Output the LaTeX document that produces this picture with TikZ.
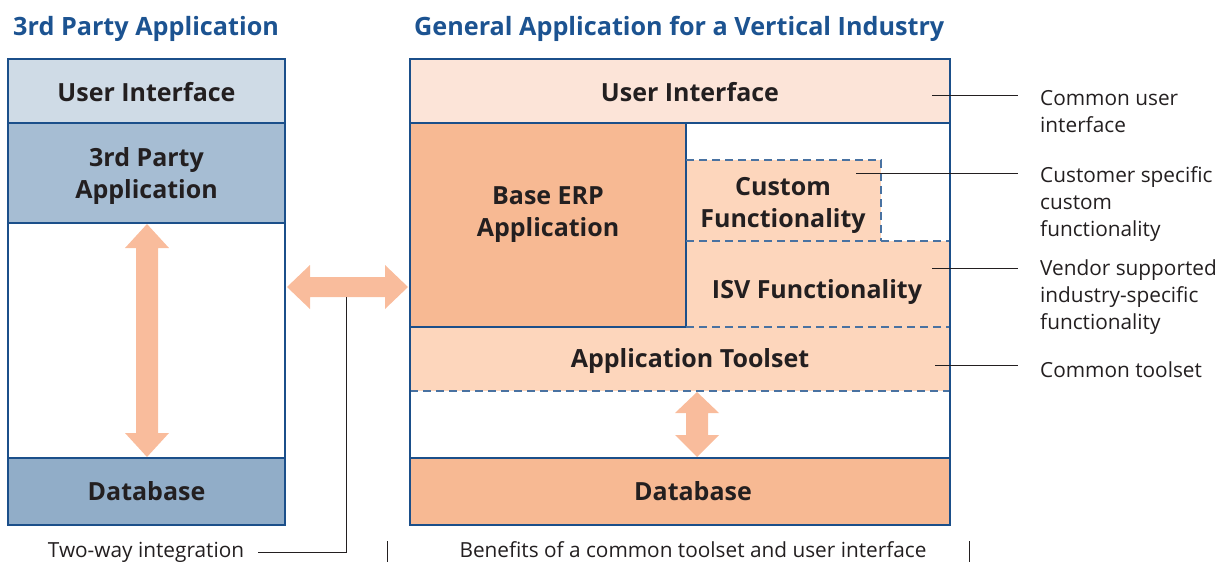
\documentclass[tikz,border=0pt]{standalone}
\usepackage{fontspec}
\setmainfont{Open Sans}
\definecolor{navy}{HTML}{1B4F8A}
\definecolor{ttl}{HTML}{1C5391}
\definecolor{txt}{HTML}{231F20}
\definecolor{bUI}{HTML}{CFDBE6}
\definecolor{bApp}{HTML}{A6BDD3}
\definecolor{bDB}{HTML}{91ADC8}
\definecolor{oUI}{HTML}{FCE4D8}
\definecolor{oDark}{HTML}{F7B993}
\definecolor{oLight}{HTML}{FDD6BC}
\definecolor{arr}{HTML}{F9BC9C}
\begin{document}
\begin{tikzpicture}[x=1pt,y=-1pt,
  lbl/.style={font=\bfseries\fontsize{25}{32}\selectfont, text=txt, align=center, inner sep=0},
  ttlfont/.style={font=\bfseries\fontsize{25.2}{30}\selectfont, text=ttl, anchor=base west, inner sep=0},
  ann/.style={font=\fontsize{20.8}{26.8}\selectfont, text=txt, align=left, anchor=base west, inner sep=0},
  outer/.style={draw=navy, line width=2.6pt},
  thin/.style={draw=navy, line width=1.3pt},
  dashline/.style={draw=navy!80, line width=1.3pt, dash pattern=on 8pt off 5pt},
  leader/.style={draw=txt, line width=1pt},
  bigarrow/.style={fill=arr, draw=none}]
\useasboundingbox (0,0) rectangle (1223,562);

% titles
\node[ttlfont] (t1) at (13,35) {3rd Party Application};
\node[ttlfont] (t2) at (414,35) {General Application for a Vertical Industry};

% ---------- left stack ----------
\fill[bUI] (8,59) rectangle (285,123);
\fill[bApp] (8,123) rectangle (285,223);
\fill[bDB] (8,458) rectangle (285,525);
\draw[thin] (8,123) -- (285,123);
\draw[thin] (8,223) -- (285,223);
\draw[thin] (8,458) -- (285,458);
\draw[outer] (8,59) rectangle (285,525);
\node[lbl] (lui) at (146.5,92) {User Interface};
\node[lbl] (lapp) at (146.5,176) {3rd Party\\Application};
\node[lbl] (ldb) at (146.5,491) {Database};
% vertical arrow
\fill[bigarrow] (147,224) -- (169,248) -- (158,248) -- (158,433) -- (169,433) -- (147,457)
  -- (125,433) -- (136,433) -- (136,248) -- (125,248) -- cycle;

% ---------- right stack ----------
\fill[oUI] (410,59) rectangle (950,123);
\fill[oDark] (410,123) rectangle (686,327);
\fill[oLight] (686,160) rectangle (881,241);
\fill[oLight] (686,241) rectangle (950,327);
\fill[oLight] (410,327) rectangle (950,391);
\fill[oDark] (410,458) rectangle (950,525);
\draw[thin] (410,123) -- (950,123);
\draw[thin] (686,123) -- (686,327);
\draw[thin] (410,327) -- (686,327);
\draw[thin] (410,458) -- (950,458);
\draw[dashline] (686,160) -- (881,160) -- (881,241);
\draw[dashline] (686,241) -- (950,241);
\draw[dashline] (686,327) -- (950,327);
\draw[dashline] (410,391) -- (950,391);
\draw[outer] (410,59) rectangle (950,525);
\node[lbl] (rui) at (690,92) {User Interface};
\node[lbl] (erp) at (548,215) {Base ERP\\Application};
\node[lbl] (cust) at (783,205) {Custom\\Functionality};
\node[lbl] (isv) at (817,292) {ISV Functionality};
\node[lbl] (tool) at (690,361) {Application Toolset};
\node[lbl] (rdb) at (693,491) {Database};
% small vertical arrow
\fill[bigarrow] (697,392) -- (719,413) -- (708,413) -- (708,435) -- (719,435) -- (697,457)
  -- (675,435) -- (686,435) -- (686,413) -- (675,413) -- cycle;

% two-way arrow
\fill[bigarrow] (287,287) -- (310,265) -- (310,277) -- (385,277) -- (385,265) -- (408,287)
  -- (385,309) -- (385,297) -- (310,297) -- (310,309) -- cycle;

% ---------- annotations (anchor = baseline of last line) ----------
\node[ann] (a1) at (1040,132) {Common user\\interface};
\node[ann] (a2) at (1040,236) {Customer specific\\custom\\functionality};
\node[ann] (a3) at (1040,329) {Vendor supported\\industry-specific\\functionality};
\node[ann] (a4) at (1040,377) {Common toolset};
\coordinate (s1) at (932,95);  \coordinate (e1) at (1018,95);
\coordinate (s2) at (856,173); \coordinate (e2) at (1018,173);
\coordinate (s3) at (932,268); \coordinate (e3) at (1018,268);
\coordinate (s4) at (935,365); \coordinate (e4) at (1018,365);
\draw[leader] (s1) -- (e1);
\draw[leader] (s2) -- (e2);
\draw[leader] (s3) -- (e3);
\draw[leader] (s4) -- (e4);

% bottom captions
\node[ann, anchor=base] (cap1) at (146,557) {Two-way integration};
\node[ann, anchor=base] (cap2) at (693,557) {Benefits of a common toolset and user interface};
\coordinate (tw1) at (346,297);
\coordinate (tw2) at (346,552);
\coordinate (tw3) at (258,552);
\draw[leader] (tw1) -- (tw2) -- (tw3);
\coordinate (b1) at (387,541); \coordinate (b2) at (387,562);
\coordinate (b3) at (969,541); \coordinate (b4) at (969,562);
\draw[leader] (b1) -- (b2);
\draw[leader] (b3) -- (b4);
\end{tikzpicture}
\end{document}
